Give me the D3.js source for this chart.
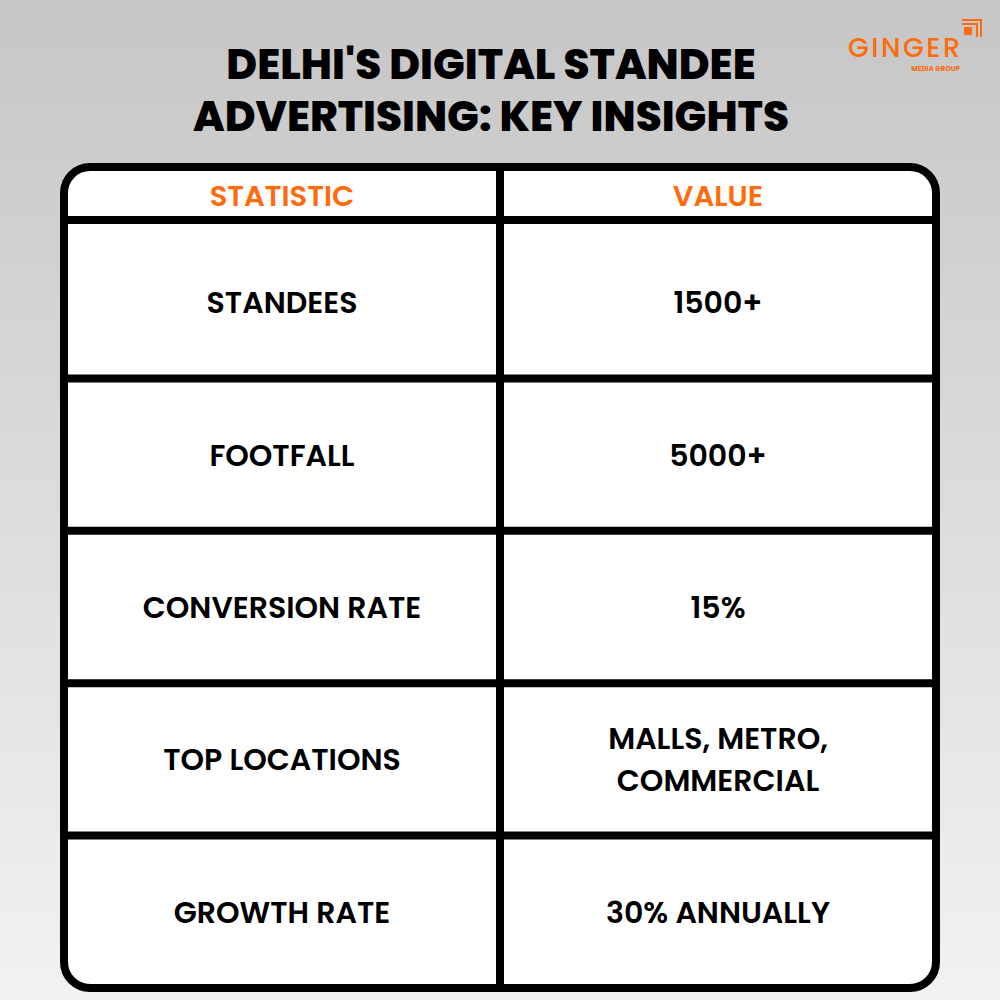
<!DOCTYPE html>
<html><head><meta charset="utf-8">
<script src="https://cdn.jsdelivr.net/npm/d3@7"></script>
<style>body{margin:0}svg{display:block}</style>
</head><body>
<script>
var titleLines = ["DELHI'S DIGITAL STANDEE", "ADVERTISING: KEY INSIGHTS"];
var headers = ["STATISTIC", "VALUE"];
var statistics = ["STANDEES", "FOOTFALL", "CONVERSION RATE", "TOP LOCATIONS", "GROWTH RATE"];
var values = [["1500+"], ["5000+"], ["15%"], ["MALLS, METRO,", "COMMERCIAL"], ["30% ANNUALLY"]];

var W = 1000, H = 1000, ORANGE = "#ff6a0d", FONT = "Poppins, Inter, 'Open Sans', sans-serif";
var svg = d3.select("body").append("svg").attr("width", W).attr("height", H);

var grad = svg.append("defs").append("linearGradient").attr("id", "bg")
  .attr("x1", 0).attr("y1", 0).attr("x2", 0).attr("y2", 1);
grad.append("stop").attr("offset", "0%").attr("stop-color", "#c6c6c6");
grad.append("stop").attr("offset", "100%").attr("stop-color", "#f2f2f2");
svg.append("rect").attr("width", W).attr("height", H).attr("fill", "url(#bg)");

// title
svg.append("g").selectAll("text").data(titleLines).join("text")
  .attr("x", 491).attr("y", function(d, i) { return 79 + i * 52; })
  .attr("text-anchor", "middle").attr("font-family", FONT).attr("font-weight", 800)
  .attr("font-size", 42).attr("fill", "#000").text(function(d) { return d; });

// logo
var logo = svg.append("g");
logo.append("text").attr("x", 848).attr("y", 57).attr("font-family", FONT).attr("font-weight", 500)
  .attr("font-size", 27).attr("fill", ORANGE).attr("textLength", 112).text("GINGER");
logo.append("text").attr("x", 960).attr("y", 71).attr("text-anchor", "end").attr("font-family", FONT)
  .attr("font-weight", 700).attr("font-size", 7).attr("fill", ORANGE).text("MEDIA GROUP");
logo.append("rect").attr("x", 964).attr("y", 27).attr("width", 8).attr("height", 8).attr("fill", ORANGE);
logo.append("path").attr("d", "M962,20 H981 V37 M962,24 H977 V37").attr("fill", "none")
  .attr("stroke", ORANGE).attr("stroke-width", 2);

// table
var tLeft = 64, tRight = 936, tTop = 167, headBottom = 220, tBottom = 988, mid = 500;
var y = d3.scaleBand().domain(statistics).range([headBottom + 6, tBottom]);

var t = svg.append("g");
t.append("rect").attr("x", tLeft).attr("y", tTop).attr("width", tRight - tLeft).attr("height", tBottom - tTop)
  .attr("rx", 26).attr("fill", "#fff").attr("stroke", "#000").attr("stroke-width", 8);
t.append("line").attr("x1", mid).attr("x2", mid).attr("y1", tTop).attr("y2", tBottom)
  .attr("stroke", "#000").attr("stroke-width", 8);
t.selectAll("line.row").data([headBottom].concat(statistics.slice(1).map(function(d) { return y(d); })))
  .join("line").attr("class", "row").attr("x1", tLeft).attr("x2", tRight)
  .attr("y1", function(d) { return d; }).attr("y2", function(d) { return d; })
  .attr("stroke", "#000").attr("stroke-width", 8);

var cx = [(tLeft + mid) / 2, (mid + tRight) / 2];
t.selectAll("text.head").data(headers).join("text").attr("class", "head")
  .attr("x", function(d, i) { return cx[i]; }).attr("y", (tTop + headBottom) / 2 + 12)
  .attr("text-anchor", "middle").attr("font-family", FONT).attr("font-weight", 600)
  .attr("font-size", 29).attr("fill", ORANGE).text(function(d) { return d; });

t.selectAll("text.stat").data(statistics).join("text").attr("class", "stat")
  .attr("x", cx[0]).attr("y", function(d) { return y(d) + y.bandwidth() / 2 + 11; })
  .attr("text-anchor", "middle").attr("font-family", FONT).attr("font-weight", 600)
  .attr("font-size", 30).attr("fill", "#000").text(function(d) { return d; });

statistics.forEach(function(s, i) {
  var lines = values[i], c = y(s) + y.bandwidth() / 2 + 11;
  t.selectAll(null).data(lines).join("text")
    .attr("x", cx[1]).attr("y", function(d, j) { return c + (j - (lines.length - 1) / 2) * 42; })
    .attr("text-anchor", "middle").attr("font-family", FONT).attr("font-weight", 600)
    .attr("font-size", 30).attr("fill", "#000").text(function(d) { return d; });
});
</script>
</body></html>
